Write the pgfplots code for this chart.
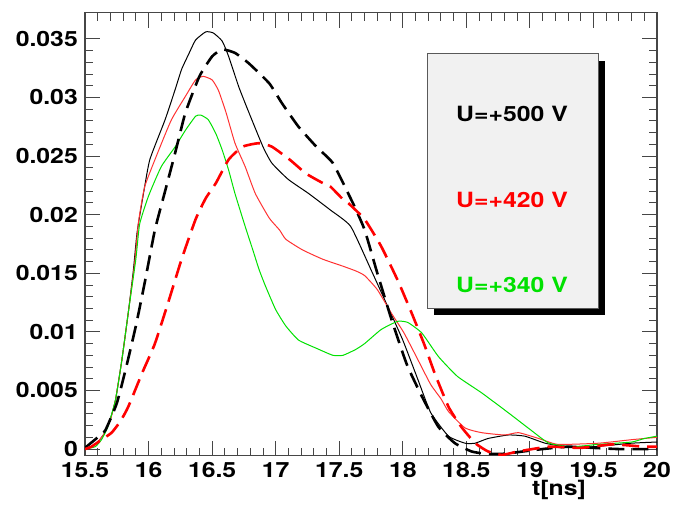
\documentclass[border=0pt]{standalone}
\usepackage{fontspec}
\setmainfont{TeX Gyre Heros}[FakeStretch=1.18]
\usepackage{pgfplots}
\pgfplotsset{compat=1.18}

\definecolor{rootgreen}{RGB}{0,225,0}
\definecolor{rootred}{RGB}{255,0,0}
\definecolor{thinred}{RGB}{255,50,50}
\definecolor{panefill}{RGB}{241,241,241}
\definecolor{framegray}{RGB}{70,70,70}

% pulse shapes, 500 V
\pgfplotstableread{
t y
15.50 0.0000
15.55 0.0002
15.60 0.0006
15.65 0.0013
15.70 0.0026
15.74 0.0042
15.79 0.0076
15.84 0.0116
15.88 0.0152
15.91 0.0185
15.96 0.0218
16.01 0.0247
16.13 0.0281
16.21 0.0307
16.26 0.0324
16.32 0.0338
16.37 0.0349
16.45 0.0356
16.51 0.0355
16.58 0.0348
16.63 0.0335
16.71 0.0309
16.79 0.0287
16.90 0.0258
16.97 0.0244
17.10 0.0230
17.26 0.0218
17.43 0.0204
17.59 0.0190
17.75 0.0153
17.88 0.0122
18.00 0.0093
18.12 0.0059
18.22 0.0031
18.36 0.0011
18.49 0.0005
18.57 0.0005
18.67 0.0009
18.83 0.0012
18.96 0.0011
19.12 0.0005
19.28 0.0002
19.50 0.0002
19.80 0.0005
20.00 0.0006
}\solidA

\pgfplotstableread{
t y
15.50 0.0001
15.60 0.0010
15.66 0.0016
15.75 0.0039
15.82 0.0068
15.90 0.0105
15.97 0.0142
16.05 0.0187
16.13 0.0220
16.21 0.0253
16.29 0.0287
16.40 0.0318
16.50 0.0335
16.58 0.0341
16.68 0.0338
16.79 0.0329
16.95 0.0312
17.05 0.0295
17.18 0.0275
17.32 0.0258
17.45 0.0244
17.58 0.0216
17.62 0.0207
17.70 0.0187
17.80 0.0150
17.91 0.0111
17.99 0.0085
18.04 0.0070
18.15 0.0045
18.28 0.0019
18.41 0.0005
18.54 -0.0002
18.65 -0.0004
18.80 -0.0004
18.95 -0.0002
19.10 0.0000
19.30 0.0002
19.50 0.0001
19.70 0.0000
20.00 0.0000
}\dashedA

% pulse shapes, 420 V
\pgfplotstableread{
t y
15.50 0.0000
15.55 0.0002
15.60 0.0006
15.65 0.0013
15.70 0.0025
15.74 0.0042
15.79 0.0076
15.84 0.0116
15.89 0.0158
15.92 0.0193
15.97 0.0224
16.08 0.0255
16.18 0.0281
16.29 0.0301
16.37 0.0315
16.43 0.0318
16.50 0.0315
16.55 0.0306
16.61 0.0287
16.68 0.0261
16.76 0.0241
16.84 0.0218
16.95 0.0197
17.03 0.0187
17.08 0.0179
17.21 0.0170
17.37 0.0162
17.53 0.0156
17.63 0.0152
17.70 0.0148
17.80 0.0136
17.91 0.0116
18.01 0.0099
18.12 0.0076
18.22 0.0055
18.30 0.0043
18.36 0.0032
18.49 0.0018
18.62 0.0014
18.80 0.0012
18.91 0.0014
19.07 0.0009
19.22 0.0004
19.54 0.0005
19.80 0.0008
20.00 0.0010
}\solidB

\pgfplotstableread{
t y
15.50 0.0000
15.55 0.0002
15.63 0.0008
15.71 0.0014
15.78 0.0024
15.84 0.0036
15.95 0.0065
16.05 0.0090
16.16 0.0127
16.26 0.0162
16.37 0.0196
16.45 0.0214
16.53 0.0227
16.63 0.0247
16.74 0.0258
16.87 0.0261
16.97 0.0258
17.11 0.0247
17.24 0.0235
17.37 0.0227
17.43 0.0224
17.53 0.0213
17.57 0.0210
17.70 0.0196
17.83 0.0173
17.96 0.0144
18.07 0.0116
18.17 0.0089
18.25 0.0065
18.36 0.0036
18.46 0.0019
18.57 0.0005
18.67 -0.0002
18.78 -0.0005
18.91 -0.0002
19.15 0.0002
19.40 0.0001
19.65 0.0004
19.90 0.0002
20.00 0.0002
}\dashedB

% pulse shape, 340 V
\pgfplotstableread{
t y
15.50 0.0000
15.58 0.0002
15.63 0.0008
15.68 0.0019
15.74 0.0042
15.79 0.0076
15.84 0.0116
15.90 0.0162
15.93 0.0192
16.00 0.0216
16.10 0.0241
16.21 0.0258
16.29 0.0272
16.37 0.0284
16.41 0.0285
16.47 0.0281
16.53 0.0269
16.58 0.0255
16.63 0.0238
16.68 0.0218
16.76 0.0190
16.82 0.0170
16.87 0.0153
16.92 0.0139
17.00 0.0119
17.08 0.0105
17.18 0.0093
17.32 0.0086
17.45 0.0080
17.53 0.0080
17.63 0.0085
17.70 0.0090
17.83 0.0102
17.96 0.0109
18.04 0.0108
18.15 0.0099
18.28 0.0079
18.43 0.0062
18.62 0.0048
18.83 0.0031
19.01 0.0016
19.15 0.0005
19.33 0.0002
19.54 0.0004
19.80 0.0006
19.90 0.0009
20.00 0.0011
}\solidC

\begin{document}
\begin{tikzpicture}[x=1pt,y=1pt]
\useasboundingbox (0,0) rectangle (674,512);
\begin{axis}[
  at={(85pt,56.5pt)}, anchor=south west,
  scale only axis, width=572pt, height=443pt,
  xmin=15.5, xmax=20, ymin=-0.00055, ymax=0.03725,
  xtick={15.5,16,16.5,17,17.5,18,18.5,19,19.5,20},
  xticklabels={15.5,16,16.5,17,17.5,18,18.5,19,19.5,20},
  ytick={0,0.005,0.01,0.015,0.02,0.025,0.03,0.035},
  yticklabels={0,0.005,0.01,0.015,0.02,0.025,0.03,0.035},
  minor x tick num=4, minor y tick num=4,
  tick align=inside, tick pos=both,
  major tick length=15pt, minor tick length=8pt,
  every major tick/.append style={framegray, line width=0.9pt},
  every minor tick/.append style={framegray, line width=0.9pt},
  axis line style={framegray, line width=1.3pt},
  tick label style={font=\bfseries\fontsize{21}{21}\selectfont, inner sep=0pt},
  xticklabel shift=7pt, yticklabel shift=7pt,
  clip=true,
]
\addplot[black, line width=1pt, smooth, tension=0.3] table[x=t,y=y]{\solidA};
\addplot[thinred, line width=1pt, smooth, tension=0.3] table[x=t,y=y]{\solidB};
\addplot[rootgreen, line width=1pt, smooth, tension=0.3] table[x=t,y=y]{\solidC};
\addplot[black, line width=2.6pt, dash pattern=on 16pt off 8pt, smooth, tension=0.3] table[x=t,y=y]{\dashedA};
\addplot[rootred, line width=2.6pt, dash pattern=on 17pt off 8pt, smooth, tension=0.3] table[x=t,y=y]{\dashedB};
\end{axis}

% voltage pave with drop shadow
\fill[black] (434,197) rectangle (605,451);
\filldraw[fill=panefill, draw=gray!70!black, line width=1pt] (427,204) rectangle (598,458);
\node[font=\bfseries\fontsize{21}{21}\selectfont, text=black] at (512,398) {U=+500 V};
\node[font=\bfseries\fontsize{21}{21}\selectfont, text=rootred] at (512,312) {U=+420 V};
\node[font=\bfseries\fontsize{21}{21}\selectfont, text=rootgreen] at (512,227) {U=+340 V};

\node[anchor=east, font=\bfseries\fontsize{21}{21}\selectfont, inner sep=0pt] at (586,22) {t[ns]};
\end{tikzpicture}
\end{document}
